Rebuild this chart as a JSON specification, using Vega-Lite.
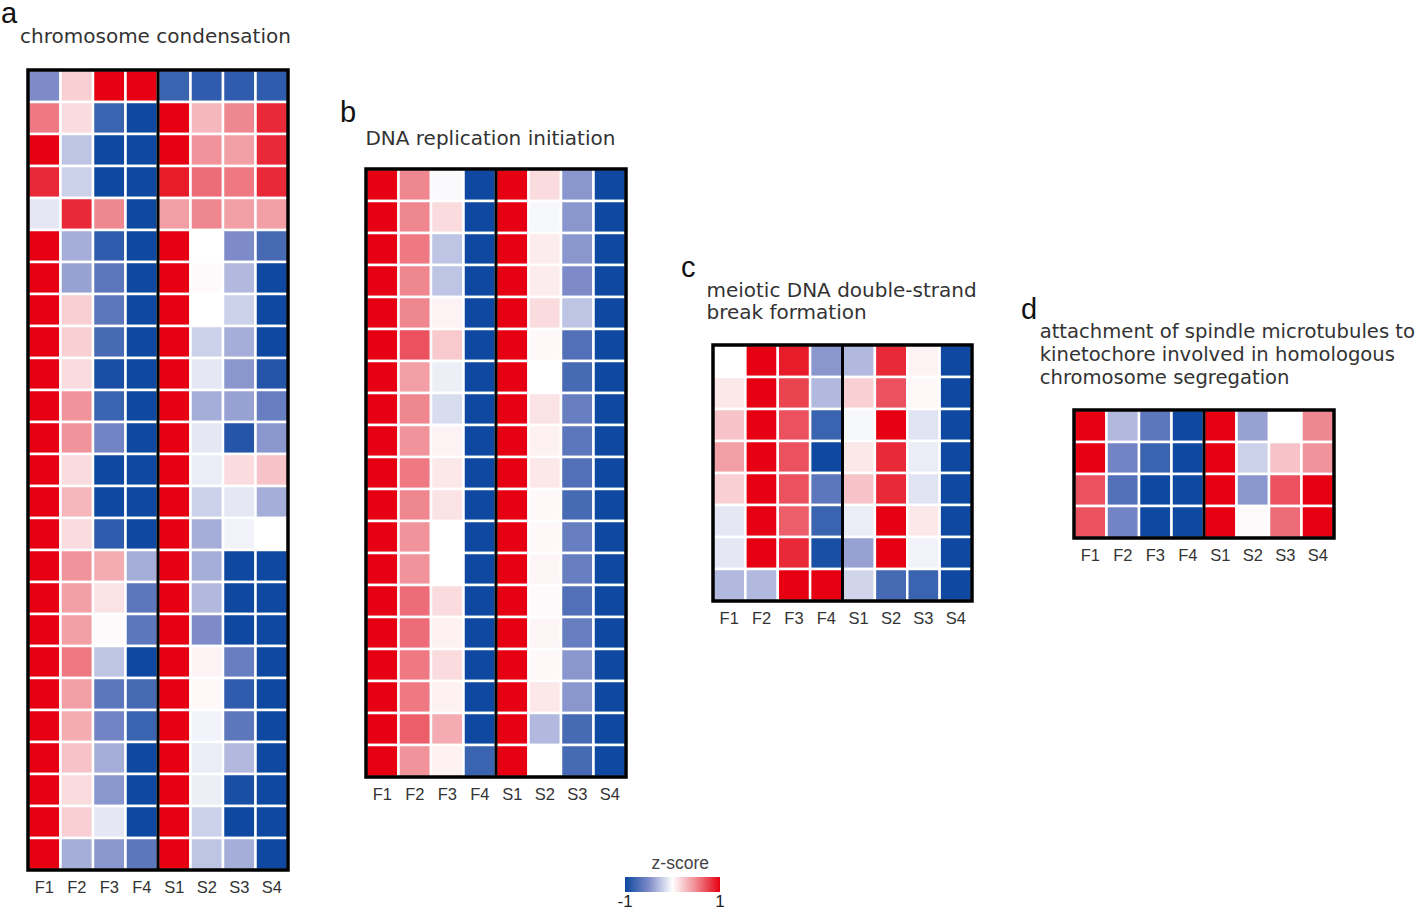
{
  "$schema": "https://vega.github.io/schema/vega-lite/v6.json",
  "background": "white",
  "padding": {"left": 1, "top": 0, "right": 0, "bottom": 0},
  "datasets": {
    "a": [
      {"r": 1, "F1": -0.5, "F2": 0.2, "F3": 1, "F4": 1, "S1": -0.8, "S2": -0.85, "S3": -0.85, "S4": -0.85},
      {"r": 2, "F1": 0.55, "F2": 0.15, "F3": -0.8, "F4": -1, "S1": 1, "S2": 0.3, "S3": 0.5, "S4": 0.85},
      {"r": 3, "F1": 1, "F2": -0.25, "F3": -1, "F4": -1, "S1": 1, "S2": 0.45, "S3": 0.4, "S4": 0.85},
      {"r": 4, "F1": 0.85, "F2": -0.2, "F3": -1, "F4": -1, "S1": 0.9, "S2": 0.6, "S3": 0.55, "S4": 0.85},
      {"r": 5, "F1": -0.1, "F2": 0.85, "F3": 0.5, "F4": -1, "S1": 0.4, "S2": 0.5, "S3": 0.4, "S4": 0.4},
      {"r": 6, "F1": 1, "F2": -0.35, "F3": -0.85, "F4": -1, "S1": 1, "S2": 0, "S3": -0.5, "S4": -0.75},
      {"r": 7, "F1": 1, "F2": -0.4, "F3": -0.65, "F4": -1, "S1": 1, "S2": 0.02, "S3": -0.3, "S4": -1},
      {"r": 8, "F1": 1, "F2": 0.2, "F3": -0.65, "F4": -1, "S1": 1, "S2": 0, "S3": -0.2, "S4": -1},
      {"r": 9, "F1": 1, "F2": 0.2, "F3": -0.75, "F4": -1, "S1": 1, "S2": -0.2, "S3": -0.35, "S4": -1},
      {"r": 10, "F1": 1, "F2": 0.15, "F3": -0.95, "F4": -1, "S1": 1, "S2": -0.1, "S3": -0.45, "S4": -0.9},
      {"r": 11, "F1": 1, "F2": 0.45, "F3": -0.8, "F4": -1, "S1": 1, "S2": -0.35, "S3": -0.4, "S4": -0.6},
      {"r": 12, "F1": 1, "F2": 0.45, "F3": -0.55, "F4": -1, "S1": 1, "S2": -0.1, "S3": -0.9, "S4": -0.45},
      {"r": 13, "F1": 1, "F2": 0.15, "F3": -1, "F4": -1, "S1": 1, "S2": -0.08, "S3": 0.15, "S4": 0.25},
      {"r": 14, "F1": 1, "F2": 0.3, "F3": -1, "F4": -1, "S1": 1, "S2": -0.2, "S3": -0.1, "S4": -0.35},
      {"r": 15, "F1": 1, "F2": 0.15, "F3": -0.85, "F4": -1, "S1": 1, "S2": -0.35, "S3": -0.05, "S4": 0},
      {"r": 16, "F1": 1, "F2": 0.45, "F3": 0.35, "F4": -0.35, "S1": 1, "S2": -0.35, "S3": -1, "S4": -1},
      {"r": 17, "F1": 1, "F2": 0.4, "F3": 0.12, "F4": -0.65, "S1": 1, "S2": -0.3, "S3": -1, "S4": -1},
      {"r": 18, "F1": 1, "F2": 0.4, "F3": 0.02, "F4": -0.65, "S1": 1, "S2": -0.5, "S3": -1, "S4": -1},
      {"r": 19, "F1": 1, "F2": 0.55, "F3": -0.25, "F4": -1, "S1": 1, "S2": 0.05, "S3": -0.6, "S4": -1},
      {"r": 20, "F1": 1, "F2": 0.4, "F3": -0.65, "F4": -0.75, "S1": 1, "S2": 0.03, "S3": -0.85, "S4": -1},
      {"r": 21, "F1": 1, "F2": 0.35, "F3": -0.55, "F4": -0.8, "S1": 1, "S2": -0.05, "S3": -0.65, "S4": -1},
      {"r": 22, "F1": 1, "F2": 0.25, "F3": -0.35, "F4": -1, "S1": 1, "S2": -0.08, "S3": -0.3, "S4": -1},
      {"r": 23, "F1": 1, "F2": 0.15, "F3": -0.45, "F4": -1, "S1": 1, "S2": -0.07, "S3": -0.95, "S4": -1},
      {"r": 24, "F1": 1, "F2": 0.2, "F3": -0.1, "F4": -1, "S1": 1, "S2": -0.2, "S3": -1, "S4": -1},
      {"r": 25, "F1": 1, "F2": -0.35, "F3": -0.45, "F4": -0.65, "S1": 1, "S2": -0.25, "S3": -0.35, "S4": -1}
    ],
    "b": [
      {"r": 1, "F1": 1, "F2": 0.5, "F3": -0.02, "F4": -1, "S1": 1, "S2": 0.15, "S3": -0.45, "S4": -1},
      {"r": 2, "F1": 1, "F2": 0.5, "F3": 0.15, "F4": -1, "S1": 1, "S2": -0.03, "S3": -0.45, "S4": -1},
      {"r": 3, "F1": 1, "F2": 0.55, "F3": -0.25, "F4": -1, "S1": 1, "S2": 0.08, "S3": -0.45, "S4": -1},
      {"r": 4, "F1": 1, "F2": 0.5, "F3": -0.25, "F4": -1, "S1": 1, "S2": 0.08, "S3": -0.5, "S4": -1},
      {"r": 5, "F1": 1, "F2": 0.5, "F3": 0.05, "F4": -1, "S1": 1, "S2": 0.15, "S3": -0.25, "S4": -1},
      {"r": 6, "F1": 1, "F2": 0.7, "F3": 0.22, "F4": -1, "S1": 1, "S2": 0.03, "S3": -0.7, "S4": -1},
      {"r": 7, "F1": 1, "F2": 0.4, "F3": -0.07, "F4": -1, "S1": 1, "S2": 0, "S3": -0.75, "S4": -1},
      {"r": 8, "F1": 1, "F2": 0.5, "F3": -0.15, "F4": -1, "S1": 1, "S2": 0.12, "S3": -0.6, "S4": -1},
      {"r": 9, "F1": 1, "F2": 0.45, "F3": 0.05, "F4": -1, "S1": 1, "S2": 0.06, "S3": -0.65, "S4": -1},
      {"r": 10, "F1": 1, "F2": 0.55, "F3": 0.1, "F4": -1, "S1": 1, "S2": 0.1, "S3": -0.7, "S4": -1},
      {"r": 11, "F1": 1, "F2": 0.5, "F3": 0.12, "F4": -1, "S1": 1, "S2": 0.03, "S3": -0.75, "S4": -1},
      {"r": 12, "F1": 1, "F2": 0.45, "F3": 0, "F4": -1, "S1": 1, "S2": 0.03, "S3": -0.6, "S4": -1},
      {"r": 13, "F1": 1, "F2": 0.45, "F3": 0, "F4": -1, "S1": 1, "S2": 0.04, "S3": -0.6, "S4": -1},
      {"r": 14, "F1": 1, "F2": 0.6, "F3": 0.15, "F4": -1, "S1": 1, "S2": 0.02, "S3": -0.7, "S4": -1},
      {"r": 15, "F1": 1, "F2": 0.6, "F3": 0.06, "F4": -1, "S1": 1, "S2": 0.04, "S3": -0.6, "S4": -1},
      {"r": 16, "F1": 1, "F2": 0.55, "F3": 0.15, "F4": -1, "S1": 1, "S2": 0.03, "S3": -0.45, "S4": -1},
      {"r": 17, "F1": 1, "F2": 0.55, "F3": 0.06, "F4": -1, "S1": 1, "S2": 0.1, "S3": -0.45, "S4": -1},
      {"r": 18, "F1": 1, "F2": 0.65, "F3": 0.35, "F4": -1, "S1": 1, "S2": -0.3, "S3": -0.75, "S4": -1},
      {"r": 19, "F1": 1, "F2": 0.45, "F3": 0.06, "F4": -0.8, "S1": 1, "S2": 0, "S3": -0.75, "S4": -1}
    ],
    "c": [
      {"r": 1, "F1": 0, "F2": 1, "F3": 0.9, "F4": -0.45, "S1": -0.3, "S2": 0.85, "S3": 0.05, "S4": -1},
      {"r": 2, "F1": 0.1, "F2": 1, "F3": 0.75, "F4": -0.3, "S1": 0.2, "S2": 0.7, "S3": 0.03, "S4": -1},
      {"r": 3, "F1": 0.25, "F2": 1, "F3": 0.7, "F4": -0.8, "S1": -0.03, "S2": 1, "S3": -0.12, "S4": -1},
      {"r": 4, "F1": 0.4, "F2": 1, "F3": 0.7, "F4": -1, "S1": 0.1, "S2": 0.85, "S3": -0.08, "S4": -1},
      {"r": 5, "F1": 0.2, "F2": 1, "F3": 0.7, "F4": -0.65, "S1": 0.25, "S2": 0.85, "S3": -0.12, "S4": -1},
      {"r": 6, "F1": -0.1, "F2": 1, "F3": 0.65, "F4": -0.8, "S1": -0.08, "S2": 1, "S3": 0.1, "S4": -1},
      {"r": 7, "F1": -0.1, "F2": 1, "F3": 0.85, "F4": -0.95, "S1": -0.4, "S2": 1, "S3": -0.05, "S4": -1},
      {"r": 8, "F1": -0.3, "F2": -0.3, "F3": 1, "F4": 1, "S1": -0.18, "S2": -0.75, "S3": -0.8, "S4": -1}
    ],
    "d": [
      {"r": 1, "F1": 1, "F2": -0.3, "F3": -0.65, "F4": -1, "S1": 1, "S2": -0.4, "S3": 0, "S4": 0.5},
      {"r": 2, "F1": 1, "F2": -0.55, "F3": -0.8, "F4": -1, "S1": 1, "S2": -0.2, "S3": 0.25, "S4": 0.45},
      {"r": 3, "F1": 0.7, "F2": -0.7, "F3": -1, "F4": -1, "S1": 1, "S2": -0.45, "S3": 0.7, "S4": 1},
      {"r": 4, "F1": 0.7, "F2": -0.55, "F3": -1, "F4": -1, "S1": 1, "S2": 0.02, "S3": 0.6, "S4": 1}
    ]
  },
  "spacing": 0,
  "bounds": "flush",
  "hconcat": [
    {
      "width": 260,
      "height": 800,
      "title": {"text": "a", "subtitle": "\u200b\u00a0\u00a0\u00a0chromosome condensation", "dx": -27, "offset": 20.8, "subtitlePadding": -1.8},
      "layer": [
        {
          "data": {"name": "a"},
          "transform": [{"fold": ["F1", "F2", "F3", "F4", "S1", "S2", "S3", "S4"], "as": ["c", "z"]}],
          "mark": {"type": "rect", "stroke": "white", "strokeWidth": 2.5},
          "encoding": {
            "x": {"field": "c", "type": "nominal", "title": null},
            "y": {"field": "r", "type": "ordinal", "axis": null},
            "color": {"field": "z", "type": "quantitative", "title": "\u200b\u00a0\u00a0\u00a0z-score",
              "scale": {"domain": [-1, -0.5, 0, 0.5, 1], "range": ["#0e48a0", "#7d8bc8", "#ffffff", "#ef8790", "#e60012"], "interpolate": "rgb"},
              "legend": {"orient": "none", "legendX": 597, "legendY": 785, "direction": "horizontal", "values": [-0.999, 0.999], "labelExpr": "datum.value < 0 ? '-1' : '1'"}}
          }
        },
        {
          "data": {"values": [{"c": "S1"}]},
          "mark": {"type": "rule", "color": "black", "strokeWidth": 3},
          "encoding": {"x": {"field": "c", "type": "nominal", "bandPosition": 0, "title": null}}
        },
        {
          "data": {"values": [{}]},
          "mark": {"type": "rect", "fill": "transparent", "stroke": "black", "strokeWidth": 3.5},
          "encoding": {}
        }
      ]
    },
    {"width": 78, "height": 1, "data": {"values": []}, "mark": "point"},
    {
      "spacing": 0,
      "bounds": "flush",
      "vconcat": [
        {"width": 1, "height": 99, "data": {"values": []}, "mark": "point"},
        {
          "width": 260,
          "height": 608,
          "title": {"text": "b", "subtitle": "\u200b\u00a0\u00a0\u00a0\u00a0DNA replication initiation", "dx": -26, "offset": 17.8, "subtitlePadding": 1.1},
          "layer": [
            {
              "data": {"name": "b"},
              "transform": [{"fold": ["F1", "F2", "F3", "F4", "S1", "S2", "S3", "S4"], "as": ["c", "z"]}],
              "mark": {"type": "rect", "stroke": "white", "strokeWidth": 2.5},
              "encoding": {
                "x": {"field": "c", "type": "nominal", "title": null},
                "y": {"field": "r", "type": "ordinal", "axis": null},
                "color": {"field": "z", "type": "quantitative", "title": "\u200b\u00a0\u00a0\u00a0z-score",
                  "scale": {"domain": [-1, -0.5, 0, 0.5, 1], "range": ["#0e48a0", "#7d8bc8", "#ffffff", "#ef8790", "#e60012"], "interpolate": "rgb"},
                  "legend": {"orient": "none", "legendX": 597, "legendY": 785, "direction": "horizontal", "values": [-0.999, 0.999], "labelExpr": "datum.value < 0 ? '-1' : '1'"}}
              }
            },
            {
              "data": {"values": [{"c": "S1"}]},
              "mark": {"type": "rule", "color": "black", "strokeWidth": 3},
              "encoding": {"x": {"field": "c", "type": "nominal", "bandPosition": 0, "title": null}}
            },
            {
              "data": {"values": [{}]},
              "mark": {"type": "rect", "fill": "transparent", "stroke": "black", "strokeWidth": 3.5},
              "encoding": {}
            }
          ]
        }
      ]
    },
    {"width": 347, "height": 1, "data": {"values": []}, "mark": "point"},
    {
      "spacing": 0,
      "bounds": "flush",
      "vconcat": [
        {"width": 1, "height": 275, "data": {"values": []}, "mark": "point"},
        {
          "width": 259,
          "height": 256,
          "title": {"text": "c", "subtitle": ["\u200b\u00a0\u00a0\u00a0\u00a0meiotic DNA double-strand", "\u200b\u00a0\u00a0\u00a0\u00a0break formation"], "dx": -32, "offset": 20.3, "subtitlePadding": -1.9, "subtitleLineHeight": 21.5},
          "layer": [
            {
              "data": {"name": "c"},
              "transform": [{"fold": ["F1", "F2", "F3", "F4", "S1", "S2", "S3", "S4"], "as": ["c", "z"]}],
              "mark": {"type": "rect", "stroke": "white", "strokeWidth": 2.5},
              "encoding": {
                "x": {"field": "c", "type": "nominal", "title": null},
                "y": {"field": "r", "type": "ordinal", "axis": null},
                "color": {"field": "z", "type": "quantitative", "title": "\u200b\u00a0\u00a0\u00a0z-score",
                  "scale": {"domain": [-1, -0.5, 0, 0.5, 1], "range": ["#0e48a0", "#7d8bc8", "#ffffff", "#ef8790", "#e60012"], "interpolate": "rgb"},
                  "legend": {"orient": "none", "legendX": 597, "legendY": 785, "direction": "horizontal", "values": [-0.999, 0.999], "labelExpr": "datum.value < 0 ? '-1' : '1'"}}
              }
            },
            {
              "data": {"values": [{"c": "S1"}]},
              "mark": {"type": "rule", "color": "black", "strokeWidth": 3},
              "encoding": {"x": {"field": "c", "type": "nominal", "bandPosition": 0, "title": null}}
            },
            {
              "data": {"values": [{}]},
              "mark": {"type": "rect", "fill": "transparent", "stroke": "black", "strokeWidth": 3.5},
              "encoding": {}
            }
          ]
        }
      ]
    },
    {"width": 361, "height": 1, "data": {"values": []}, "mark": "point"},
    {
      "spacing": 0,
      "bounds": "flush",
      "vconcat": [
        {"width": 1, "height": 340, "data": {"values": []}, "mark": "point"},
        {
          "width": 260,
          "height": 128,
          "title": {"text": "d", "subtitle": ["\u200b\u00a0\u00a0\u00a0attachment of spindle microtubules to", "\u200b\u00a0\u00a0\u00a0kinetochore involved in homologous", "\u200b\u00a0\u00a0\u00a0chromosome segregation"], "dx": -53, "offset": 20.8, "subtitlePadding": -1.7, "subtitleLineHeight": 23, "subtitleFontSize": 19.6},
          "layer": [
            {
              "data": {"name": "d"},
              "transform": [{"fold": ["F1", "F2", "F3", "F4", "S1", "S2", "S3", "S4"], "as": ["c", "z"]}],
              "mark": {"type": "rect", "stroke": "white", "strokeWidth": 2.5},
              "encoding": {
                "x": {"field": "c", "type": "nominal", "title": null},
                "y": {"field": "r", "type": "ordinal", "axis": null},
                "color": {"field": "z", "type": "quantitative", "title": "\u200b\u00a0\u00a0\u00a0z-score",
                  "scale": {"domain": [-1, -0.5, 0, 0.5, 1], "range": ["#0e48a0", "#7d8bc8", "#ffffff", "#ef8790", "#e60012"], "interpolate": "rgb"},
                  "legend": {"orient": "none", "legendX": 597, "legendY": 785, "direction": "horizontal", "values": [-0.999, 0.999], "labelExpr": "datum.value < 0 ? '-1' : '1'"}}
              }
            },
            {
              "data": {"values": [{"c": "S1"}]},
              "mark": {"type": "rule", "color": "black", "strokeWidth": 3},
              "encoding": {"x": {"field": "c", "type": "nominal", "bandPosition": 0, "title": null}}
            },
            {
              "data": {"values": [{}]},
              "mark": {"type": "rect", "fill": "transparent", "stroke": "black", "strokeWidth": 3.5},
              "encoding": {}
            }
          ]
        }
      ]
    }
  ],
  "config": {
    "view": {"stroke": null},
    "axis": {"domain": false, "ticks": false, "tickSize": 0, "grid": false, "labelFont": "Liberation Sans", "labelFontSize": 16.5, "labelColor": "#333", "labelPadding": 9, "labelAngle": 0},
    "legend": {"gradientLength": 95, "gradientThickness": 15, "padding": 0, "titleFont": "Liberation Sans", "titleFontSize": 17.5, "titleFontWeight": "normal", "titleColor": "#444", "titleAnchor": "middle", "titlePadding": 4.5, "labelFont": "Liberation Sans", "labelFontSize": 17, "labelColor": "#222", "labelOffset": 3, "gradientStrokeWidth": 0},
    "title": {"anchor": "start", "frame": "group", "font": "Liberation Sans", "fontSize": 29, "fontWeight": "normal", "color": "#111", "subtitleFont": "DejaVu Sans", "subtitleFontSize": 20, "subtitleColor": "#333", "subtitleLineHeight": 23.5}
  }
}
